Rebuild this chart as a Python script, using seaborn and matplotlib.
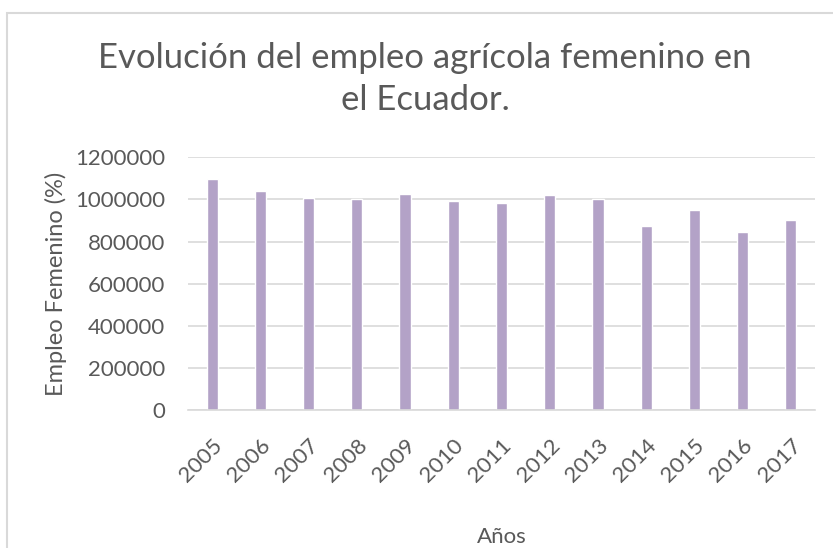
'''Evolucion del empleo agricola femenino en el Ecuador - bar chart.'''
import pandas as pd
import matplotlib.pyplot as plt
import seaborn as sns
from matplotlib.patches import Rectangle

years = ['2005', '2006', '2007', '2008', '2009', '2010', '2011',
         '2012', '2013', '2014', '2015', '2016', '2017']
empleo = [1098000, 1041000, 1008000, 1002000, 1028000, 991000, 981000,
          1019000, 1002000, 873000, 949000, 846000, 902000]
y_ticks = [0, 200000, 400000, 600000, 800000, 1000000, 1200000]

BAR = '#b3a2c7'
TXT = '#595959'
GRID = '#d9d9d9'

sns.set_style('white')
plt.rcParams['font.family'] = ['Lato', 'DejaVu Sans']

W, H = 833, 548
fig = plt.figure(figsize=(W / 100, H / 100), dpi=100)
ax = fig.add_axes([188 / W, 1 - 410 / H, (815 - 188) / W, (410 - 157.3) / H])

df = pd.DataFrame({'year': years, 'empleo': empleo})
sns.barplot(data=df, x='year', y='empleo', color=BAR, saturation=1,
            width=0.23, ax=ax)

ax.set_ylim(0, 1200000)
ax.set_xlim(-0.5, len(years) - 0.5)
ax.set_yticks(y_ticks)
ax.set_yticklabels([str(v) for v in y_ticks])
ax.yaxis.grid(True, color=GRID, linewidth=1.2)
ax.set_axisbelow(True)
for s in ['top', 'right', 'left']:
    ax.spines[s].set_visible(False)
ax.spines['bottom'].set_color(GRID)
ax.spines['bottom'].set_linewidth(1.2)

ax.tick_params(axis='both', length=0, colors=TXT, labelsize=16)
ax.tick_params(axis='y', pad=16.5)
plt.setp(ax.get_xticklabels(), rotation=45, ha='right', rotation_mode='anchor')
ax.tick_params(axis='x', pad=18)

ax.set_xlabel('Años', color=TXT, fontsize=16, labelpad=30)
ax.set_ylabel('Empleo Femenino (%)', color=TXT, fontsize=17, labelpad=6)

fig.text(425 / W, 1 - 58 / H, 'Evolución del empleo agrícola femenino en',
         ha='center', va='center', fontsize=25, color=TXT)
fig.text(425 / W, 1 - 100 / H, 'el Ecuador.',
         ha='center', va='center', fontsize=25, color=TXT)

# chart area border (extends past right/bottom edge in the original)
fig.patches.append(Rectangle((7 / W, -0.05), 1.0, 1 - 13 / H + 0.05,
                             transform=fig.transFigure, fill=False,
                             edgecolor=GRID, linewidth=1.5))

fig.savefig('out.png', dpi=100)
